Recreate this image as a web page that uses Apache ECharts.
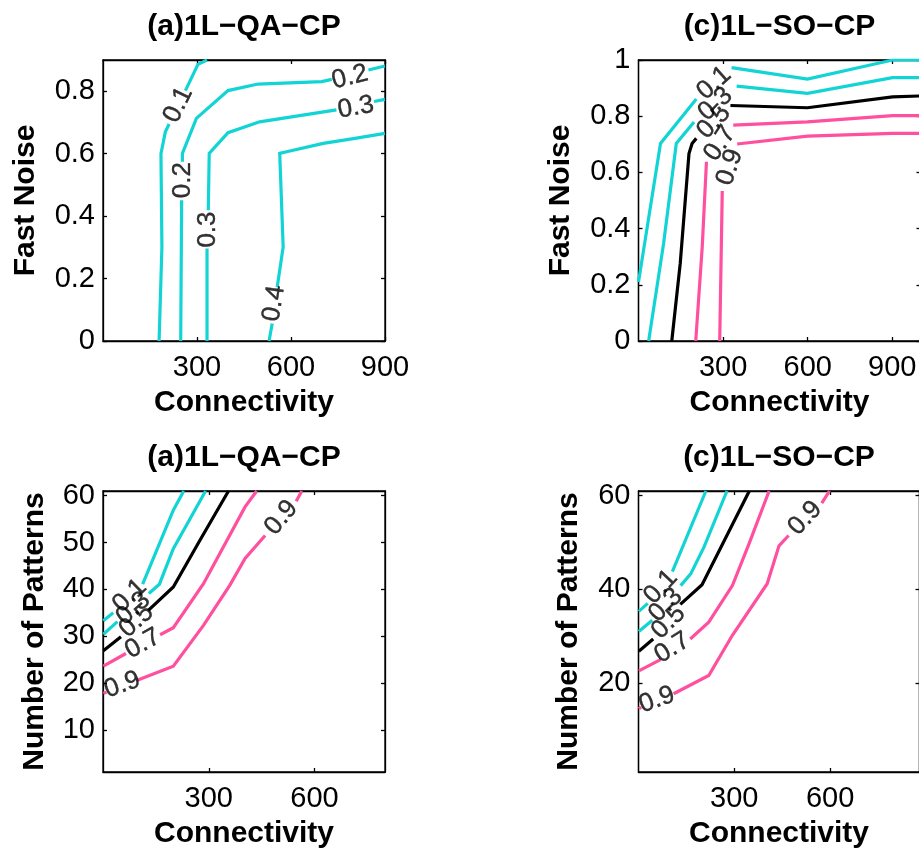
<!DOCTYPE html>
<html>
<head>
<meta charset="utf-8">
<script src="https://cdn.jsdelivr.net/npm/echarts@6/dist/echarts.min.js"></script>
<style>
  html, body { margin: 0; padding: 0; background: #fff; }
  #chart { width: 919px; height: 850px; }
</style>
</head>
<body>
<div id="chart"></div>
<script>
// ---- text ----
const titleQA = '(a)1L\u2212QA\u2212CP';
const titleSO = '(c)1L\u2212SO\u2212CP';
const xAxisName = 'Connectivity';
const yNameNoise = 'Fast Noise';
const yNamePatterns = 'Number of Patterns';

// ---- tick values ----
const qaNoiseXTicks = [300, 600, 900];
const qaNoiseYTicks = [0, 0.2, 0.4, 0.6, 0.8];
const soNoiseXTicks = [300, 600, 900];
const soNoiseYTicks = [0, 0.2, 0.4, 0.6, 0.8, 1];
const qaPatXTicks = [300, 600];
const qaPatYTicks = [10, 20, 30, 40, 50, 60];
const soPatXTicks = [300, 600];
const soPatYTicks = [20, 40, 60];

// ---- contour lines: [connectivity, value]; null = break where an inline label sits ----
// 1L-QA-CP, fast noise
const qaNoiseC01 = [[179, 0], [188, 0.30], [185, 0.60], [199, 0.67], [211, 0.695], null, [263, 0.802], [303, 0.886], [332, 0.9]];
const qaNoiseC02 = [[248, 0], [251, 0.451], null, [253.5, 0.574], [253.5, 0.601], [298, 0.713], [399, 0.802], [495, 0.823], [698, 0.831], [730, 0.838], null, [847, 0.868], [900, 0.881]];
const qaNoiseC03 = [[332, 0], [332, 0.296], null, [336, 0.419], [339, 0.601], [399, 0.667], [500, 0.702], [745, 0.740], null, [865, 0.767], [900, 0.774]];
const qaNoiseC04 = [[530, 0], [540, 0.056], null, [556, 0.173], [575, 0.301], [564, 0.601], [586, 0.606], [703, 0.633], [804, 0.649], [900, 0.665]];
const qaNoiseLabels = [[240, 0.756, '0.1'], [255, 0.515, '0.2'], [788, 0.845, '0.2'], [335, 0.357, '0.3'], [807, 0.748, '0.3'], [546, 0.12, '0.4']];

// 1L-SO-CP, fast noise
const soNoiseC01 = [[0, 0.210], [78, 0.703], [205, 0.861], null, [330, 0.973], [599, 0.932], [901, 1.0], [1000, 1.0]];
const soNoiseC03 = [[36, 0], [89, 0.347], [134, 0.703], [197, 0.779], null, [348, 0.907], [599, 0.881], [901, 0.937], [1000, 0.937]];
const soNoiseC05 = [[118, 0], [148, 0.276], [179, 0.667], [190, 0.703], [205, 0.721], null, [326, 0.838], [599, 0.830], [901, 0.869], [1000, 0.872]];
const soNoiseC07 = [[203, 0], [226, 0.335], [241, 0.638], null, [336, 0.768], [599, 0.780], [901, 0.802], [1000, 0.802]];
const soNoiseC09 = [[288, 0], [297, 0.534], null, [350, 0.701], [599, 0.729], [901, 0.739], [1000, 0.739]];
const soNoiseLabels = [[268, 0.918, '0.1'], [273, 0.843, '0.3'], [267, 0.780, '0.5'], [289, 0.703, '0.7'], [324, 0.618, '0.9']];

// 1L-QA-CP, number of patterns
const qaPatC01 = [[1, 33.3], [29, 35.0], null, [112.5, 41.1], [199.5, 56.9], [229, 61]];
const qaPatC03 = [[1, 30.4], [41, 33.1], null, [130, 39.1], [160, 41.1], [199.5, 48.7], [291, 61]];
const qaPatC05 = [[1, 26.9], [51, 29.9], null, [128.6, 35.5], [199.5, 40.5], [275, 50.5], [356, 61]];
const qaPatC07 = [[1, 23.6], [65, 26.3], null, [162, 30.3], [199.5, 31.8], [285, 41.2], [403, 57.6], [436, 61]];
const qaPatC09 = [[1, 17.8], [10, 18.05], null, [97, 20.6], [199.5, 23.6], [285, 32.3], [360, 40.9], [403, 46.6], [460, 51.5], null, [548, 58.8], [564, 61]];
const qaPatLabels = [[76, 38.6, '0.1'], [86, 35.9, '0.3'], [95, 33.3, '0.5'], [113, 28.4, '0.7'], [55, 19.6, '0.9'], [506, 55.3, '0.9']];

// 1L-SO-CP, number of patterns
const soPatC01 = [[1, 35.3], [29, 37.0], null, [106, 43.8], [211, 61]];
const soPatC03 = [[1, 31.0], [43, 33.4], null, [132, 40.8], [163.5, 43.3], [205, 49.0], [277, 61]];
const soPatC05 = [[1, 26.8], [46, 29.4], null, [131, 36.8], [199, 41.0], [347, 61]];
const soPatC07 = [[1, 22.6], [69, 25.0], null, [162, 29.4], [220, 33.0], [294, 40.8], [346, 49.7], [409, 61]];
const soPatC09 = [[1, 14.5], [8, 14.9], null, [110, 17.7], [220, 21.6], [294, 30.2], [403, 41.2], [440, 49.3], [470, 51.5], null, [574, 58.4], [598, 61]];
const soPatLabels = [[70, 40.5, '0.1'], [85, 36.6, '0.3'], [94, 33.0, '0.5'], [106, 27.5, '0.7'], [58, 16.4, '0.9'], [522, 55.2, '0.9']];

// ---- styling ----
const FONT = '"Liberation Sans", Arial, Helvetica, sans-serif';
const CYAN = '#12d4d4';
const PINK = '#ff4f9f';
const BLACK = '#000000';
const LINE_W = 3.2;

const panels = [
  {
    title: titleQA, rect: [103, 60, 282, 281], xRange: [0, 900], yRange: [0, 0.9],
    xTicks: qaNoiseXTicks, yTicks: qaNoiseYTicks, yName: yNameNoise, yNameGap: 62,
    lines: [[qaNoiseC01, CYAN], [qaNoiseC02, CYAN], [qaNoiseC03, CYAN], [qaNoiseC04, CYAN]],
    labels: qaNoiseLabels, angles: [64, 90, 14, 90, 10, 81]
  },
  {
    title: titleSO, rect: [638.5, 60, 282, 281], xRange: [0, 1000], yRange: [0, 1],
    xTicks: soNoiseXTicks, yTicks: soNoiseYTicks, yName: yNameNoise, yNameGap: 63,
    lines: [[soNoiseC01, CYAN], [soNoiseC03, CYAN], [soNoiseC05, BLACK], [soNoiseC07, PINK], [soNoiseC09, PINK]],
    labels: soNoiseLabels, angles: [42, 42, 46, 56, 72]
  },
  {
    title: titleQA, rect: [103, 491, 282, 281], xRange: [0, 800], yRange: [1, 61],
    xTicks: qaPatXTicks, yTicks: qaPatYTicks, yName: yNamePatterns, yNameGap: 53,
    lines: [[qaPatC01, CYAN], [qaPatC03, CYAN], [qaPatC05, BLACK], [qaPatC07, PINK], [qaPatC09, PINK]],
    labels: qaPatLabels, angles: [44, 42, 42, 29, 20, 50]
  },
  {
    title: titleSO, rect: [638.5, 491, 281, 281], xRange: [0, 880], yRange: [1, 61],
    xTicks: soPatXTicks, yTicks: soPatYTicks, yName: yNamePatterns, yNameGap: 55,
    lines: [[soPatC01, CYAN], [soPatC03, CYAN], [soPatC05, BLACK], [soPatC07, PINK], [soPatC09, PINK]],
    labels: soPatLabels, angles: [47, 45, 45, 32, 20, 47]
  }
];

const axisLineStyle = { color: '#000', width: 1.3 };
const tickLabelStyle = { fontSize: 29, color: '#000', fontFamily: FONT };
const nameStyle = { fontSize: 30, fontWeight: 'bold', color: '#000', fontFamily: FONT };

function makeAxis(gridIndex, range, ticks, position, withLabels, extra) {
  return Object.assign({
    type: 'value', gridIndex, position, min: range[0], max: range[1],
    axisLine: { show: true, onZero: false, lineStyle: axisLineStyle },
    axisTick: { show: true, inside: true, length: 4, customValues: ticks, lineStyle: axisLineStyle },
    axisLabel: Object.assign({ show: withLabels, customValues: ticks }, tickLabelStyle),
    splitLine: { show: false },
    splitArea: { show: false }
  }, extra || {});
}

const grid = [], xAxis = [], yAxis = [], title = [], series = [];

panels.forEach((p, i) => {
  const [left, top, width, height] = p.rect;
  grid.push({
    left, top, width, height, show: true, borderColor: '#000', borderWidth: 1.3,
    backgroundColor: 'transparent', containLabel: false, outerBoundsMode: 'none'
  });
  title.push({
    text: p.title, left: left + width / 2, top: top - 48, textAlign: 'center', padding: 0,
    textStyle: nameStyle
  });
  xAxis.push(makeAxis(i, p.xRange, p.xTicks, 'bottom', true, {
    name: xAxisName, nameLocation: 'middle', nameGap: 47, nameTextStyle: nameStyle
  }));
  xAxis[xAxis.length - 1].axisLabel.margin = 12;
  xAxis.push(makeAxis(i, p.xRange, p.xTicks, 'top', false));
  yAxis.push(makeAxis(i, p.yRange, p.yTicks, 'left', true, {
    name: p.yName, nameLocation: 'middle', nameGap: p.yNameGap, nameTextStyle: nameStyle
  }));
  yAxis[yAxis.length - 1].axisLabel.margin = 8;
  yAxis.push(makeAxis(i, p.yRange, p.yTicks, 'right', false));

  p.lines.forEach(([pts, color]) => {
    series.push({
      type: 'line', xAxisIndex: 2 * i, yAxisIndex: 2 * i,
      data: pts.map(pt => (pt ? pt : ['-', '-'])),
      connectNulls: false, showSymbol: false, symbol: 'none', silent: true,
      lineStyle: { color, width: LINE_W, cap: 'butt', join: 'miter' },
      z: 3
    });
  });

  // inline contour level labels
  series.push({
    type: 'scatter', xAxisIndex: 2 * i, yAxisIndex: 2 * i, symbolSize: 0, silent: true, z: 5,
    data: p.labels.map((l, k) => ({
      name: l[2], value: [l[0], l[1]],
      label: { rotate: p.angles[k] }
    })),
    label: {
      show: true, position: 'inside', formatter: '{b}', fontSize: 26, color: '#000',
      fontFamily: FONT, align: 'center', verticalAlign: 'middle',
      textBorderColor: '#000', textBorderWidth: 0.4
    }
  });
});

const chart = echarts.init(document.getElementById('chart'), null, { renderer: 'canvas' });
chart.setOption({
  animation: false,
  backgroundColor: '#fff',
  title, grid, xAxis, yAxis, series
});
</script>
</body>
</html>
